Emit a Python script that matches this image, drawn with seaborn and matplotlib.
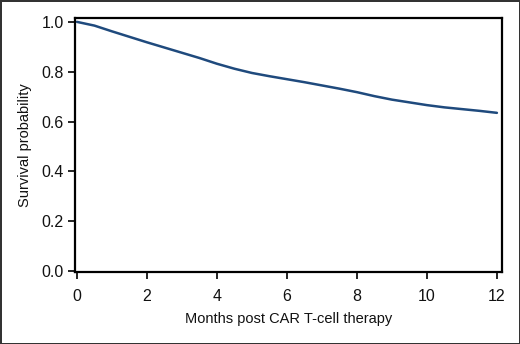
import numpy as np
import pandas as pd
import matplotlib
matplotlib.use("Agg")
import matplotlib.pyplot as plt
import seaborn as sns

# survival estimates (months post infusion)
months = [0, 0.5, 1, 1.5, 2, 2.5, 3, 3.5, 4, 4.5, 5, 5.5, 6, 6.5, 7, 7.5, 8, 8.5, 9, 9.5, 10, 10.5, 11, 11.5, 12]
survival = [1.0, 0.985, 0.962, 0.940, 0.918, 0.897, 0.876, 0.855, 0.832, 0.812, 0.795, 0.782, 0.770, 0.758, 0.745, 0.732, 0.718, 0.702, 0.688, 0.677, 0.666, 0.657, 0.650, 0.643, 0.635]
x_ticks = [0, 2, 4, 6, 8, 10, 12]
y_ticks = [0.0, 0.2, 0.4, 0.6, 0.8, 1.0]

sns.set_style("ticks")
plt.rcParams['font.family'] = ['Liberation Sans', 'DejaVu Sans']

df = pd.DataFrame({"month": months, "surv": survival})

fig = plt.figure(figsize=(5.2, 3.44), dpi=100)
fig.patch.set_edgecolor('#333333')
fig.patch.set_linewidth(2)
ax = fig.add_axes([0.144, 0.209, 0.821, 0.739])

sns.lineplot(data=df, x="month", y="surv", ax=ax, color="#1f4a7d", linewidth=1.8)

ax.set_xlim(-0.06, 12.14)
ax.set_ylim(-0.004, 1.016)
ax.set_xticks(x_ticks)
ax.set_yticks(y_ticks)
ax.set_xticklabels([str(t) for t in x_ticks])
ax.set_yticklabels([f"{t:.1f}" for t in y_ticks])
ax.tick_params(axis='both', labelsize=11.5, length=5, width=1.2, color='black',
               labelcolor='#111111')
ax.tick_params(axis='x', pad=7)
ax.tick_params(axis='y', pad=3)

for s in ax.spines.values():
    s.set_visible(True)
    s.set_linewidth(1.6)
    s.set_color('black')

ax.set_xlabel("Months post CAR T-cell therapy", fontsize=10.5, labelpad=6, color='#111111')
ax.set_ylabel("Survival probability", fontsize=10.5, labelpad=7, color='#111111')

fig.savefig("out.png", dpi=100, edgecolor=fig.get_edgecolor())
